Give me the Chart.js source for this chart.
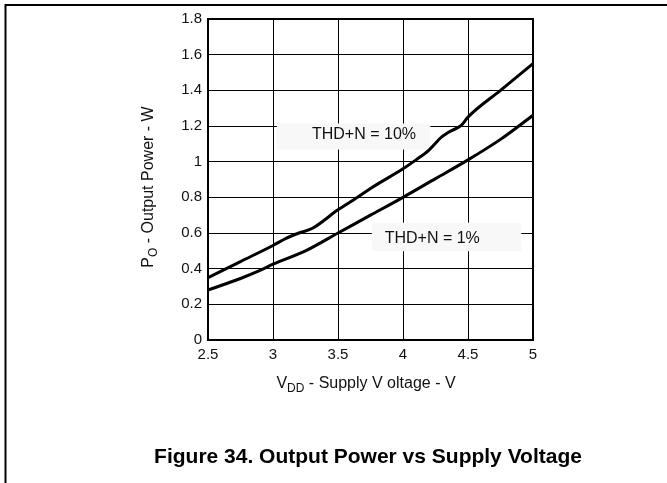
<!DOCTYPE html>
<html>
<head>
<meta charset="utf-8">
<script src="https://cdn.jsdelivr.net/npm/chart.js@4"></script>
<style>
  html, body { margin: 0; padding: 0; background: #fff; }
  canvas { display: block; }
</style>
</head>
<body>
<canvas id="powerChart" width="667" height="483"></canvas>
<script>
// Output power vs supply voltage, two THD+N levels
const thd10Volts = [2.5, 2.75, 3.0, 3.1, 3.2, 3.3, 3.5, 3.65, 3.75, 4.0, 4.1, 4.2, 4.3, 4.35, 4.45, 4.5, 4.75, 5.0];
const thd10Watts = [0.35, 0.44, 0.53, 0.57, 0.60, 0.625, 0.73, 0.80, 0.85, 0.96, 1.01, 1.065, 1.14, 1.165, 1.205, 1.25, 1.40, 1.55];

const thd1Volts = [2.5, 2.75, 2.9, 3.0, 3.25, 3.5, 3.75, 4.0, 4.25, 4.5, 4.75, 5.0];
const thd1Watts = [0.28, 0.345, 0.39, 0.425, 0.50, 0.60, 0.70, 0.80, 0.905, 1.01, 1.125, 1.26];

const xTickValues = [2.5, 3, 3.5, 4, 4.5, 5];
const yTickValues = [0, 0.2, 0.4, 0.6, 0.8, 1, 1.2, 1.4, 1.6, 1.8];

// curve labels sit on light boxes that hide the grid behind them
const curveNotes = [
  { text: 'THD+N = 10%', x0: 3.03, x1: 4.21, y0: 1.068, y1: 1.214, tx: 3.70, ty: 1.152 },
  { text: 'THD+N = 1%', x0: 3.76, x1: 4.91, y0: 0.498, y1: 0.658, tx: 4.225, ty: 0.569 },
];

const FONT = '"Liberation Sans", Arial, Helvetica, sans-serif';
Chart.defaults.font.family = FONT;
Chart.defaults.color = '#000';

function toPoints(xs, ys) {
  return xs.map((x, i) => ({ x: x, y: ys[i] }));
}

const decorations = {
  id: 'decorations',
  beforeDatasetsDraw(chart) {
    const { ctx, scales: { x, y } } = chart;
    ctx.save();
    curveNotes.forEach(n => {
      const left = x.getPixelForValue(n.x0);
      const right = x.getPixelForValue(n.x1);
      const top = y.getPixelForValue(n.y1);
      const bottom = y.getPixelForValue(n.y0);
      ctx.fillStyle = '#f8f8f8';
      ctx.fillRect(left, top, right - left, bottom - top);
      ctx.fillStyle = '#111';
      ctx.font = '16px ' + FONT;
      ctx.textAlign = 'center';
      ctx.textBaseline = 'middle';
      ctx.fillText(n.text, x.getPixelForValue(n.tx), y.getPixelForValue(n.ty));
    });
    ctx.restore();
  },
  afterDraw(chart) {
    const { ctx, chartArea: a } = chart;
    ctx.save();

    // plot frame
    ctx.strokeStyle = '#000';
    ctx.lineWidth = 2;
    ctx.strokeRect(a.left, a.top, a.right - a.left, a.bottom - a.top);

    // page frame (top and left edges only)
    ctx.beginPath();
    ctx.moveTo(667, 5);
    ctx.lineTo(5.5, 5);
    ctx.lineTo(5.5, 483);
    ctx.stroke();

    ctx.fillStyle = '#111';
    ctx.textBaseline = 'alphabetic';

    // x axis title: V_DD - Supply V oltage - V
    const mainFont = '16px ' + FONT;
    const subFont = '12px ' + FONT;
    const xParts = [['V', mainFont, 0], ['DD', subFont, 4], [' - Supply V oltage - V', mainFont, 0]];
    let total = 0;
    xParts.forEach(p => { ctx.font = p[1]; total += ctx.measureText(p[0]).width; });
    let cx = 366 - total / 2;
    ctx.textAlign = 'left';
    xParts.forEach(p => {
      ctx.font = p[1];
      ctx.fillText(p[0], cx, 388 + p[2]);
      cx += ctx.measureText(p[0]).width;
    });

    // y axis title: P_O - Output Power - W
    ctx.translate(153, 187);
    ctx.rotate(-Math.PI / 2);
    const yParts = [['P', mainFont, 0], ['O', subFont, 4], [' - Output Power - W', mainFont, 0]];
    total = 0;
    yParts.forEach(p => { ctx.font = p[1]; total += ctx.measureText(p[0]).width; });
    cx = -total / 2;
    yParts.forEach(p => {
      ctx.font = p[1];
      ctx.fillText(p[0], cx, p[2]);
      cx += ctx.measureText(p[0]).width;
    });
    ctx.setTransform(1, 0, 0, 1, 0, 0);

    // caption
    ctx.font = 'bold 21px ' + FONT;
    ctx.textAlign = 'center';
    ctx.fillStyle = '#000';
    ctx.fillText('Figure 34. Output Power vs Supply Voltage', 368, 463, 438);

    ctx.restore();
  }
};

const ctxPower = document.getElementById('powerChart').getContext('2d');
const powerChart = new Chart(ctxPower, {
  type: 'line',
  data: {
    datasets: [
      {
        label: 'THD+N = 10%',
        data: toPoints(thd10Volts, thd10Watts),
        borderColor: '#000',
        borderWidth: 3,
        pointRadius: 0,
        cubicInterpolationMode: 'monotone',
        fill: false,
      },
      {
        label: 'THD+N = 1%',
        data: toPoints(thd1Volts, thd1Watts),
        borderColor: '#000',
        borderWidth: 3,
        pointRadius: 0,
        cubicInterpolationMode: 'monotone',
        fill: false,
      },
    ],
  },
  options: {
    responsive: false,
    animation: false,
    layout: {
      padding: { top: 19, right: 134, left: 0, bottom: 0 },
    },
    plugins: {
      legend: { display: false },
      tooltip: { enabled: false },
    },
    scales: {
      x: {
        type: 'linear',
        min: 2.5,
        max: 5,
        afterBuildTicks: s => { s.ticks = xTickValues.map(v => ({ value: v })); },
        afterFit: s => { s.height = 143; },
        grid: { color: '#000', lineWidth: 1, drawTicks: false },
        border: { display: false },
        ticks: {
          padding: 6,
          font: { size: 15 },
          color: '#111',
          maxRotation: 0,
          callback: v => String(+v.toFixed(1)),
        },
      },
      y: {
        min: 0,
        max: 1.8,
        afterBuildTicks: s => { s.ticks = yTickValues.map(v => ({ value: v })); },
        afterFit: s => { s.width = 208; },
        grid: { color: '#000', lineWidth: 1, drawTicks: false },
        border: { display: false },
        ticks: {
          padding: 6,
          font: { size: 15 },
          color: '#111',
          callback: v => String(+v.toFixed(1)),
        },
      },
    },
  },
  plugins: [decorations],
});
</script>
</body>
</html>
